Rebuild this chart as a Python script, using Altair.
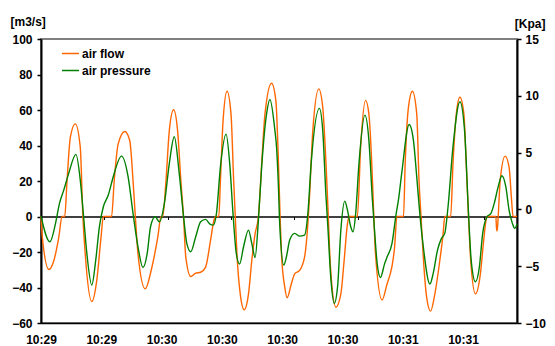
import altair as alt
import pandas as pd

# ---- data ----
# time in seconds from start (one x tick = 16 s)
flow_t = [0, 0.33, 2.0, 3.25, 4.5, 5.33, 6.0, 6.58, 7.42, 8.67, 9.92, 10.58, 11.17, 12.83, 14.08,
          15.17, 15.75, 17.83, 18.5, 19.5, 21.17, 22.42, 23.25, 23.83, 24.5, 26.33, 27.83, 29.5,
          30.33, 30.75, 31.58, 32.42, 33.5, 34.5, 35.33, 36.0, 36.58, 37.83, 39.08, 40.33, 41.58,
          42.83, 43.67, 44.08, 44.92, 45.33, 46.0, 47.0, 48.0, 48.67, 49.08, 49.5, 50.33, 51.33,
          52.42, 53.25, 54.08, 54.92, 55.75, 56.58, 58.25, 59.33, 59.92, 60.4, 60.75, 61.58, 62.17,
          63.25, 64.08, 65.33, 66.58, 67.42, 67.83, 68.67, 70.17, 71.17, 72.0, 72.58, 73.08, 74.5,
          75.75, 76.58, 77.42, 77.83, 79.92, 80.75, 82.0, 82.83, 83.67, 84.08, 84.5, 86.17, 87.42,
          88.67, 89.3, 89.92, 91.58, 92.0, 92.83, 93.83, 94.92, 95.5, 96.0, 96.58, 97.42, 98.42,
          99.5, 100.75, 101.58, 102.0, 103.5, 104.08, 104.92, 105.83, 106.83, 107.42, 108.0, 108.5,
          109.75, 111.0, 111.83, 112.42, 112.67, 114.92, 115.1, 115.25, 115.5, 116.0, 117.25, 118.25,
          118.83, 119.25, 120.25]
flow_v = [0, -11.6, -29.9, -24.8, -11.6, 0, 0, 20.3, 44.7, 52.2, 39.1, 0, -21.0, -47.9, -36.1,
          -11.6, 0, 0, 20.3, 40.9, 47.9, 42.8, 20.3, 0, -21.0, -40.8, -30.4, -11.6,
          0, 0, 20.3, 48.5, 60.1, 48.5, 20.3, 0, -22.9, -33.8, -31.9, -31.4, -28.5,
          -13.5, -2.25, 0, 0, 20.3, 54.1, 70.6, 57.8, 20.3, 0, -21.0, -43.6, -52.6,
          -43.6, -24.8, -9.8, 0, 29.7, 57.8, 75.1, 65.4, 35.0, 0, -21.0, -39.8, -45.8,
          -37.9, -32.3, -30.4, -22.9, -4.1, 10.9, 48.5, 71.9, 61.6, 29.7, 0, -26.7, -51.1,
          -43.6, -24.8, -4.1, 0, 0, 39.1, 65.4, 57.8, 24.0, 0, -21.0, -47.0, -38.0,
          -28.0, -18.0, 0, 0, 29.7, 61.6, 70.6, 57.8, 20.3, 0, -22.9, -45.4, -53.3,
          -43.6, -24.8, -9.8, 0, 0, 29.7, 57.8, 67.2, 57.8, 29.7, 0, -22.9,
          -43.6, -32.3, -13.5, -2.25, 0, 0, -8.0, -8.0, 0, 20.3, 34.0, 27.8,
          10.9, 0, 0]

pres_t = [0, 2.25, 3.67, 4.67, 5.75, 7.0, 8.83, 9.92, 10.75, 11.58, 12.83, 13.83, 14.75, 15.75,
          17.0, 18.25, 20.33, 22.0, 23.25, 24.5, 25.75, 26.83, 27.67, 28.83, 29.92, 31.17, 32.42,
          33.67, 34.92, 36.0, 36.83, 37.83, 39.08, 40.33, 41.58, 42.67, 43.5, 44.33, 45.33, 46.75,
          47.67, 48.5, 49.33, 50.17, 51.17, 52.42, 53.25, 54.08, 54.92, 55.75, 57.0, 57.83, 59.08,
          59.5, 59.92, 60.33, 61.33, 62.0, 62.83, 64.08, 65.33, 66.58, 67.42, 68.25, 70.33, 71.17,
          72.0, 72.42, 73.25, 74.08, 74.92, 75.75, 76.75, 77.42, 78.25, 78.83, 79.5, 80.33, 81.83,
          82.83, 83.67, 84.25, 84.92, 85.75, 86.83, 87.42, 88.67, 89.67, 90.33, 91.17, 93.0, 94.08,
          94.92, 95.75, 96.58, 98.25, 99.08, 100.17, 101.17, 102.0, 102.83, 104.08, 105.83, 107.0,
          108.0, 108.67, 109.75, 110.75, 111.58, 112.67, 113.67, 114.5, 115.5, 116.42, 117.42,
          118.25, 119.08, 119.67, 120.25]
pres_v = [-0.59, -2.85, -1.23, 0.53, 1.70, 3.17, 4.84, 2.58, -0.59, -3.87, -6.66, -4.46, -1.53, 0.23,
          1.26, 2.88, 4.69, 2.88, -0.35, -3.29, -5.11, -3.87, -1.53, -0.65, -1.09, 0.53, 4.05,
          6.40, 3.17, -0.59, -2.99, -3.73, -2.41, -1.09, -0.88, -1.29, -1.38, -0.35, 3.76, 6.63,
          4.05, -0.35, -3.87, -4.81, -3.29, -1.82, -2.99, -4.23, -0.94, 3.76, 8.45, 9.68, 6.98,
          5.5, 2.58, -1.5, -4.90, -4.17, -2.70, -2.11, -2.35, -2.26, -0.35, 4.05, 8.89, 6.98,
          1.12, -1.23, -6.22, -8.27, -6.81, -1.82, 0.73, -0.06, -1.53, -1.97, -0.35, 4.05, 8.30,
          6.10, 1.12, -1.82, -4.75, -5.99, -4.75, -4.2, -3.0, -0.5, 0.9, 3.3, 7.48, 6.10,
          2.88, -0.59, -3.29, -6.57, -5.63, -3.58, -2.55, -2.11, 0.23, 5.52, 9.48, 6.98,
          -0.35, -4.46, -6.37, -5.05, -2.11, -0.65, -0.35, 0.53, 2.0, 2.96, 2.0,
          -0.06, -1.23, -1.67, -1.29]

x_labels = ["10:29", "10:29", "10:30", "10:30", "10:30", "10:30", "10:31", "10:31"]
x_tick_seconds = [0, 16, 32, 48, 64, 80, 96, 112]
flow_ticks = [-60, -40, -20, 0, 20, 40, 60, 80, 100]
pres_ticks = [-10, -5, 0, 5, 10, 15]
series = ["air flow", "air pressure"]
colors = ["#FF6600", "#008000"]

flow_df = pd.DataFrame({"t": flow_t, "v": flow_v, "series": series[0]})
pres_df = pd.DataFrame({"t": pres_t, "v": pres_v, "series": series[1]})
lab_df = pd.DataFrame({"k": list(range(len(x_labels))), "label": x_labels})

FONT = "Liberation Sans"
T_MAX = 120.25
W, H = 476, 284
label_expr = "[" + ",".join("'" + s + "'" for s in x_labels) + "][datum.value]"

color = alt.Color(
    "series:N",
    scale=alt.Scale(domain=series, range=colors),
    legend=alt.Legend(
        title=None, orient="none", legendX=20, legendY=5, symbolType="stroke",
        symbolSize=289, symbolStrokeWidth=1.5, labelFont=FONT, labelFontSize=12,
        labelFontWeight="bold", labelColor="black", labelOffset=2, rowPadding=1, padding=0,
    ),
)

xscale = alt.Scale(domain=[0, T_MAX], nice=False, zero=False)

flow = alt.Chart(flow_df).mark_line(strokeWidth=1.4, interpolate="monotone").encode(
    x=alt.X("t:Q", scale=xscale,
            axis=alt.Axis(orient="bottom", offset=-106.5, values=x_tick_seconds, labels=False,
                          ticks=True, tickSize=3, tickColor="black", tickWidth=1,
                          domainColor="black", domainWidth=1.5, grid=False, title=None)),
    y=alt.Y("v:Q", scale=alt.Scale(domain=[-60, 100], nice=False),
            axis=alt.Axis(orient="left", values=flow_ticks, grid=False, domainColor="black",
                          domainWidth=2, tickColor="black", tickSize=4, tickWidth=1.5,
                          labelFont=FONT, labelFontSize=12, labelFontWeight="bold",
                          labelColor="black", labelPadding=5, labelFlush=False,
                          title="[m3/s]", titleAngle=0, titleAlign="left", titleBaseline="middle",
                          titleX=-31, titleY=-18, titleFont=FONT, titleFontSize=12,
                          titleFontWeight="bold", titleColor="black")),
    color=color,
)

pres = alt.Chart(pres_df).mark_line(strokeWidth=1.4, interpolate="monotone").encode(
    x=alt.X("t:Q", scale=xscale, axis=None),
    y=alt.Y("v:Q", scale=alt.Scale(domain=[-10, 15], nice=False),
            axis=alt.Axis(orient="right", values=pres_ticks, grid=False, domainColor="black",
                          domainWidth=2, tickColor="black", tickSize=4, tickWidth=1.5,
                          labelFont=FONT, labelFontSize=12, labelFontWeight="bold",
                          labelColor="black", labelPadding=4, labelFlush=False,
                          title="[Kpa]", titleAngle=0, titleAlign="right", titleBaseline="middle",
                          titleX=28, titleY=-16, titleFont=FONT, titleFontSize=12,
                          titleFontWeight="bold", titleColor="black")),
    color=color,
)

labels = alt.Chart(lab_df).mark_rule(opacity=0).encode(
    x=alt.X("k:Q", scale=alt.Scale(domain=[0, 7.895], nice=False, zero=False),
            axis=alt.Axis(orient="bottom", values=list(range(len(x_labels))), labelExpr=label_expr,
                          ticks=False, tickSize=0, labelPadding=11, labelFlush=False,
                          labelOverlap=False, domainColor="black", domainWidth=1.5,
                          grid=False, title=None, labelFont=FONT, labelFontSize=12,
                          labelFontWeight="bold", labelColor="black")),
)

chart = alt.layer(flow, pres, labels).resolve_scale(
    x="independent", y="independent"
).properties(
    width=W, height=H,
    autosize=alt.AutoSizeParams(type="none"),
    padding={"left": 33, "top": 31, "right": 30, "bottom": 22},
).configure_view(stroke="#808080", strokeWidth=2)

chart.save("out.html", embed_options={"renderer": "svg", "actions": False})
